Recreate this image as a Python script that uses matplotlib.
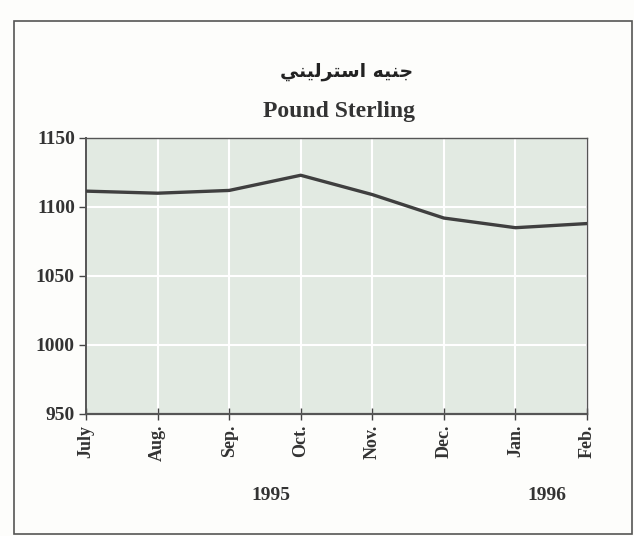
import matplotlib
matplotlib.use("Agg")
import matplotlib.pyplot as plt
from matplotlib.patches import Rectangle

# data
months = ["July", "Aug.", "Sep.", "Oct.", "Nov.", "Dec.", "Jan.", "Feb."]
values = [1111.5, 1110.0, 1112.0, 1123.0, 1109.0, 1092.0, 1085.0, 1088.0]
yticks = [950, 1000, 1050, 1100, 1150]
years = ["1995", "1996"]
year_pos = [2.58, 6.44]

# arabic title, pre-shaped (presentation forms in visual order)
title_ar = "\ufef2\ufee8\ufef4\ufedf\ufeae\ufe98\ufeb3\ufe8d \ufeea\ufef4\ufee8\ufe9f"
title_en = "Pound Sterling"

serif = "Liberation Serif"

fig = plt.figure(figsize=(6.34, 5.36), dpi=100)
fig.patch.set_facecolor("#fdfdfb")

# outer frame
fig.patches.append(Rectangle((14 / 634, 2 / 536), 618 / 634, 513 / 536,
                             transform=fig.transFigure, fill=False,
                             edgecolor="#555555", linewidth=1.2))

ax = fig.add_axes([86 / 634, 1 - 414 / 536, 501 / 634, 276 / 536])
ax.set_facecolor("#e2eae2")
x = list(range(len(months)))
ax.plot(x, values, color="#3f3f3f", linewidth=2.4, zorder=3)

ax.set_xlim(0, len(months) - 1)
ax.set_ylim(950, 1150)
ax.set_xticks(x)
ax.set_xticklabels(months, rotation=90, fontfamily=serif, fontweight="bold",
                   fontsize=13, color="#333333")
ax.set_yticks(yticks)
ax.set_yticklabels([str(v) for v in yticks], fontfamily=serif,
                   fontweight="bold", fontsize=14, color="#333333")
ax.tick_params(axis="both", length=5, width=1, color="#444444", pad=4)
ax.tick_params(axis="y", direction="out", pad=3)
ax.tick_params(axis="x", direction="inout", length=8)
ax.grid(True, color="white", linewidth=1.5, zorder=1)
ax.set_axisbelow(True)
for s in ax.spines.values():
    s.set_color("#555555")
    s.set_linewidth(1.0)
ax.spines["left"].set_linewidth(1.4)
ax.spines["bottom"].set_linewidth(1.6)

for yr, xp in zip(years, year_pos):
    ax.text(xp, -0.295, yr, transform=ax.get_xaxis_transform(), ha="center",
            va="center", fontfamily=serif, fontweight="bold", fontsize=14,
            color="#333333")

fig.text(347 / 634, 1 - 72 / 536, title_ar, ha="center", va="center",
         fontfamily=["DejaVu Sans"], fontweight="bold", fontsize=13.5,
         color="#222222")
fig.text(339 / 634, 1 - 111 / 536, title_en, ha="center", va="center",
         fontfamily=serif, fontweight="bold", fontsize=17, color="#333333")

fig.savefig("out.png", dpi=100, facecolor=fig.get_facecolor())
